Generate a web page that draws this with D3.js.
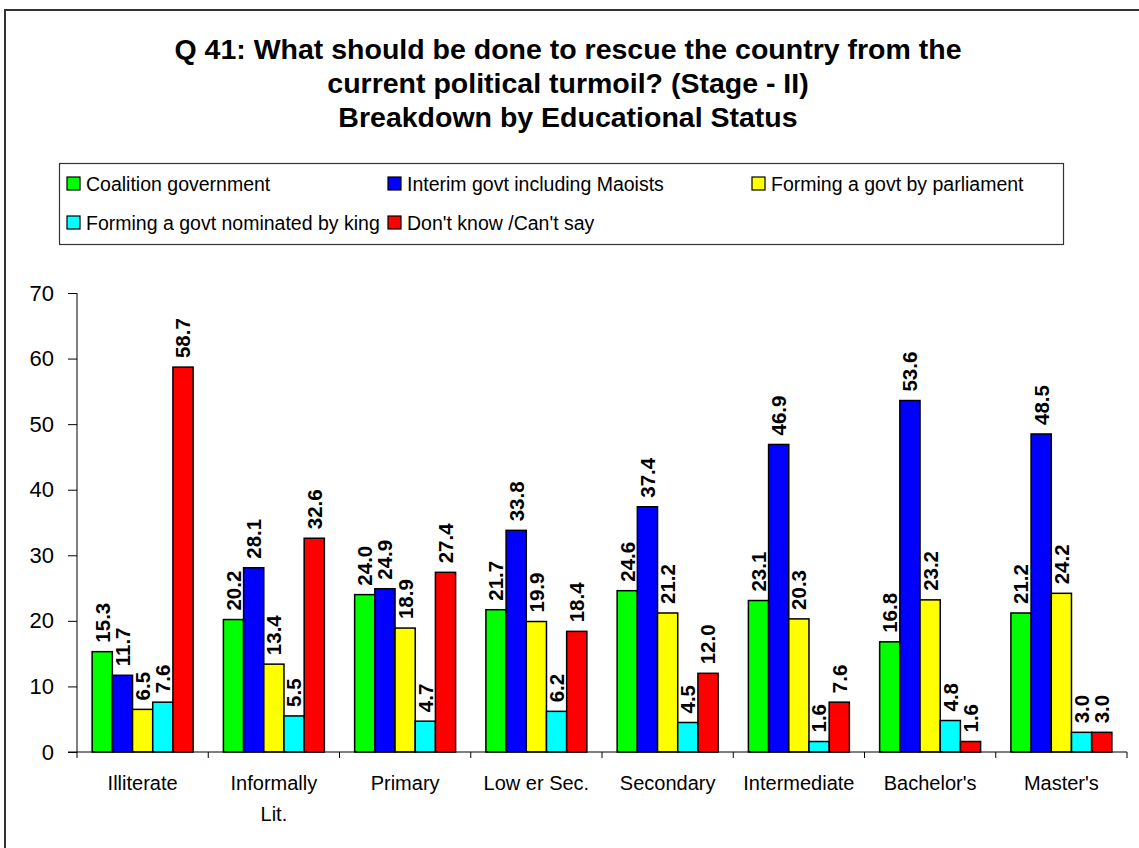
<!DOCTYPE html>
<html>
<head>
<meta charset="utf-8">
<script src="https://cdn.jsdelivr.net/npm/d3@7"></script>
<style>
  html, body { margin: 0; padding: 0; background: #fff; }
  svg { display: block; font-family: Arial, "Liberation Sans", sans-serif; }
</style>
</head>
<body>
<svg id="chart" width="1139" height="848"></svg>
<script>
// Survey results by educational status (percent)
const categories = ["Illiterate", "Informally\nLit.", "Primary", "Low er Sec.", "Secondary", "Intermediate", "Bachelor's", "Master's"];
const seriesNames = ["Coalition government", "Interim govt including Maoists", "Forming a govt by parliament", "Forming a govt nominated by king", "Don't know /Can't say"];
const seriesColors = ["#00ff00", "#0000ff", "#ffff00", "#00ffff", "#ff0000"];
const coalition  = [15.3, 20.2, 24.0, 21.7, 24.6, 23.1, 16.8, 21.2];
const interim    = [11.7, 28.1, 24.9, 33.8, 37.4, 46.9, 53.6, 48.5];
const parliament = [6.5, 13.4, 18.9, 19.9, 21.2, 20.3, 23.2, 24.2];
const king       = [7.6, 5.5, 4.7, 6.2, 4.5, 1.6, 4.8, 3.0];
const dontKnow   = [58.7, 32.6, 27.4, 18.4, 12.0, 7.6, 1.6, 3.0];
const yTicks = [0, 10, 20, 30, 40, 50, 60, 70];
const titleLines = [
  "Q 41: What should be done to rescue the country from the",
  "current political turmoil? (Stage - II)",
  "Breakdown by Educational Status"
];

const seriesValues = [coalition, interim, parliament, king, dontKnow];
const rows = [];
categories.forEach((c, i) => {
  seriesNames.forEach((s, j) => rows.push({ cat: c, series: s, color: seriesColors[j], value: seriesValues[j][i] }));
});

const svg = d3.select("#chart");

// outer frame
svg.append("rect")
  .attr("x", 5).attr("y", 10).attr("width", 1200).attr("height", 900)
  .attr("fill", "none").attr("stroke", "#333").attr("stroke-width", 2);

// title
svg.append("g").selectAll("text").data(titleLines).join("text")
  .attr("x", 568).attr("y", (d, i) => 59 + i * 34)
  .attr("text-anchor", "middle")
  .attr("font-size", 28.5).attr("font-weight", "bold").attr("fill", "#000")
  .text(d => d);

// legend
const legend = svg.append("g");
legend.append("rect")
  .attr("x", 59.5).attr("y", 163.5).attr("width", 1004).attr("height", 81)
  .attr("fill", "#fff").attr("stroke", "#333").attr("stroke-width", 1.2);
const legendPos = [
  { x: 67, y: 184 }, { x: 388, y: 184 }, { x: 752, y: 184 },
  { x: 67, y: 223 }, { x: 388, y: 223 }
];
const items = legend.selectAll("g.item").data(seriesNames).join("g").attr("class", "item")
  .attr("transform", (d, i) => `translate(${legendPos[i].x},${legendPos[i].y})`);
items.append("rect")
  .attr("x", 0).attr("y", -7).attr("width", 13).attr("height", 13)
  .attr("fill", (d, i) => seriesColors[i]).attr("stroke", "#000").attr("stroke-width", 1.2);
items.append("text")
  .attr("x", 19).attr("y", 7)
  .attr("font-size", 19.5).attr("fill", "#000")
  .text(d => d);

// scales
const x0 = d3.scaleBand().domain(categories).range([77, 1127]).paddingInner(0).paddingOuter(0);
const x1 = d3.scaleBand().domain(seriesNames).range([0, x0.bandwidth()]).paddingInner(0).paddingOuter(0.75);
const y = d3.scaleLinear().domain([0, 70]).range([752, 293]);

// y axis
const yAxis = svg.append("g").attr("transform", "translate(77,0)")
  .call(d3.axisLeft(y).tickValues(yTicks).tickSize(9).tickPadding(14).tickFormat(d3.format("d")));
yAxis.select(".domain").attr("stroke", "#000").attr("d", "M0,293V752");
yAxis.selectAll(".tick line").attr("stroke", "#000");
yAxis.selectAll(".tick text").attr("font-size", 22).attr("font-family", "Arial, 'Liberation Sans', sans-serif").attr("fill", "#000");

// bars
const bars = svg.append("g");
bars.selectAll("rect").data(rows).join("rect")
  .attr("x", d => x0(d.cat) + x1(d.series))
  .attr("y", d => y(d.value))
  .attr("width", x1.bandwidth())
  .attr("height", d => y(0) - y(d.value))
  .attr("fill", d => d.color)
  .attr("stroke", "#000").attr("stroke-width", 1.5);

// x axis (category axis with tick marks between groups)
const xAxis = svg.append("g");
xAxis.append("line")
  .attr("x1", 68).attr("x2", x0.range()[1]).attr("y1", y(0)).attr("y2", y(0))
  .attr("stroke", "#000").attr("stroke-width", 1);
const boundaries = categories.map(c => x0(c)).concat([x0.range()[1]]);
xAxis.selectAll("line.tick").data(boundaries).join("line").attr("class", "tick")
  .attr("x1", d => d).attr("x2", d => d)
  .attr("y1", y(0)).attr("y2", y(0) + 6)
  .attr("stroke", "#000").attr("stroke-width", 1);
const catLabels = xAxis.selectAll("text").data(categories).join("text")
  .attr("x", c => x0(c) + x0.bandwidth() / 2)
  .attr("y", 790)
  .attr("text-anchor", "middle")
  .attr("font-size", 20).attr("fill", "#000");
catLabels.each(function (c) {
  const lines = c.split("\n");
  d3.select(this).selectAll("tspan").data(lines).join("tspan")
    .attr("x", x0(c) + x0.bandwidth() / 2)
    .attr("dy", (d, i) => i === 0 ? 0 : 31)
    .text(d => d);
});

// value labels, rotated above each bar
svg.append("g").selectAll("text").data(rows).join("text")
  .attr("transform", d => `translate(${x0(d.cat) + x1(d.series) + x1.bandwidth() / 2},${y(d.value) - 9}) rotate(-90)`)
  .attr("dy", "0.36em")
  .attr("text-anchor", "start")
  .attr("font-size", 20.5).attr("font-weight", "bold").attr("fill", "#000")
  .text(d => d.value.toFixed(1));
</script>
</body>
</html>
